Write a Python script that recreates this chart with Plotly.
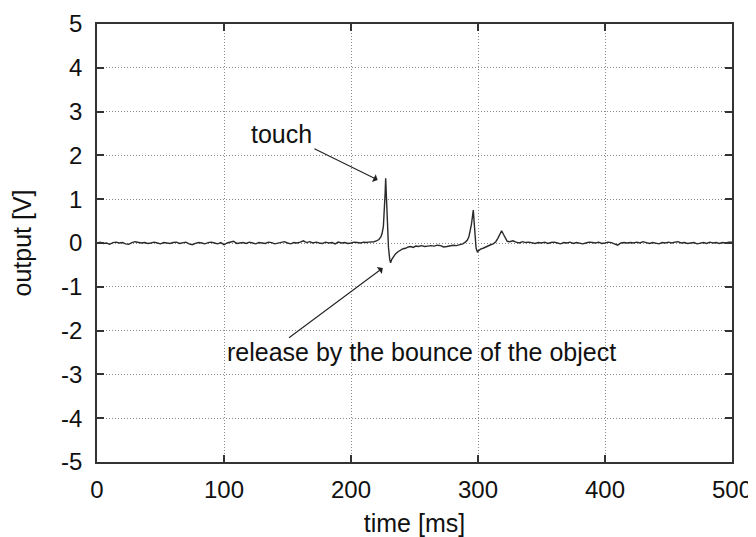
import plotly.graph_objects as go

time_ms = [
    0, 2.5, 5, 7.5, 10, 12.5, 15, 17.5, 20, 22.5, 25, 27.5, 30, 32.5, 35, 37.5, 40, 42.5, 45, 47.5,
    50, 52.5, 55, 57.5, 60, 62.5, 65, 67.5, 70, 72.5, 75, 77.5, 80, 82.5, 85, 87.5, 90, 92.5, 95, 97.5,
    100, 102.5, 105, 107.5, 110, 112.5, 115, 117.5, 120, 122.5, 125, 127.5, 130, 132.5, 135, 137.5,
    140, 142.5, 145, 147.5, 150, 152.5, 155, 157.5, 160, 162.5, 165, 167.5, 170, 172.5, 175, 177.5,
    180, 182.5, 185, 187.5, 190, 192.5, 195, 197.5, 200, 202.5, 205, 207.5, 210,
    212, 214, 216, 218, 220, 222, 223.5, 224.5, 225.5, 226.3, 226.9, 227.3, 227.8, 228.5, 229.5,
    230.5, 231.2, 232, 233.5, 235, 237, 239, 241, 243, 245, 247, 249, 251, 253, 255.5, 258, 260.5,
    263, 265.5, 268, 270.5, 273, 275.5, 278, 280.5, 283, 285.5, 288, 290, 291.5, 292.8, 293.8, 294.8,
    295.6, 296.3, 296.9, 297.6, 298.5, 299.5, 300.5, 302, 304, 306, 308, 310, 312, 314, 315.5, 317,
    318.6, 320, 321.5, 323, 325, 327.5, 330, 332.5, 335, 337.5, 340,
    342.5, 345, 347.5, 350, 352.5, 355, 357.5, 360, 362.5, 365, 367.5, 370, 372.5, 375, 377.5, 380,
    382.5, 385, 387.5, 390, 392.5, 395, 397.5, 400, 402.5, 405, 407.5, 410, 412.5, 415, 417.5, 420,
    422.5, 425, 427.5, 430, 432.5, 435, 437.5, 440, 442.5, 445, 447.5, 450, 452.5, 455, 457.5, 460,
    462.5, 465, 467.5, 470, 472.5, 475, 477.5, 480, 482.5, 485, 487.5, 490, 492.5, 495, 497.5, 500,
]

output_v = [
    0.0, 0.02, -0.01, 0.0, -0.03, 0.01, 0.02, 0.0, 0.01, -0.02, -0.03, 0.01, 0.03, 0.01, 0.0, 0.01, -0.01, 0.0, 0.02, 0.0,
    -0.02, 0.01, 0.0, -0.01, 0.01, 0.02, -0.01, 0.0, 0.02, -0.02, -0.04, -0.01, 0.01, 0.0, -0.02, 0.01, 0.02, 0.0, -0.02, 0.01,
    -0.04, 0.0, 0.02, 0.04, -0.01, 0.0, 0.01, -0.01, 0.02, 0.0, -0.02, 0.01, 0.0, -0.01, 0.02, 0.01,
    -0.02, 0.0, 0.01, 0.03, 0.0, -0.02, 0.01, 0.0, 0.02, 0.05, 0.01, 0.03, 0.0, 0.02, 0.0, -0.01,
    0.02, 0.0, 0.01, -0.02, 0.02, 0.0, 0.01, -0.01, 0.0, 0.02, 0.01, 0.0, 0.02,
    0.01, 0.02, 0.02, 0.03, 0.05, 0.08, 0.14, 0.22, 0.38, 0.7, 1.15, 1.48, 1.1, 0.5, -0.1,
    -0.38, -0.45, -0.38, -0.3, -0.25, -0.2, -0.16, -0.13, -0.12, -0.09, -0.08, -0.1, -0.07, -0.08, -0.06, -0.08, -0.07,
    -0.06, -0.07, -0.05, -0.06, -0.09, -0.08, -0.06, -0.05, -0.06, -0.04, -0.02, 0.02, 0.06, 0.14, 0.26, 0.42,
    0.6, 0.75, 0.5, 0.1, -0.12, -0.2, -0.17, -0.14, -0.12, -0.09, -0.06, -0.04, -0.02, 0.03, 0.1, 0.2,
    0.28, 0.2, 0.1, 0.04, 0.03, 0.05, 0.02, 0.0, 0.03, 0.01, 0.02,
    0.0, -0.01, 0.01, 0.0, 0.02, -0.01, 0.01, 0.02, 0.0, -0.02, 0.01, 0.0, 0.02, -0.01, 0.01, 0.0,
    -0.02, 0.0, 0.02, 0.01, 0.0, 0.02, -0.01, 0.0, 0.02, 0.01, -0.02, -0.05, 0.0, 0.01, 0.0, 0.01,
    0.0, 0.02, 0.0, 0.03, 0.01, -0.01, 0.01, 0.0, -0.02, 0.01, 0.0, 0.02, 0.0, 0.02, 0.03, 0.0,
    0.01, -0.01, 0.0, 0.01, -0.02, 0.0, 0.01, -0.01, 0.02, 0.0, 0.01, -0.01, 0.01, 0.0, 0.02, 0.02,
]

x_ticks = [0, 100, 200, 300, 400, 500]
y_ticks = [5, 4, 3, 2, 1, 0, -1, -2, -3, -4, -5]

FONT = "Liberation Sans, Arial, sans-serif"
TXT = "#111111"

fig = go.Figure()
fig.add_trace(go.Scatter(x=time_ms, y=output_v, mode="lines",
                         line=dict(color="#2a2a2a", width=1.4), showlegend=False))

axis_common = dict(
    showline=True, linecolor="#333333", linewidth=1.5, mirror="ticks",
    ticks="inside", ticklen=7, tickcolor="#333333", tickwidth=1.5,
    showgrid=True, gridcolor="#8a8a8a", griddash="1px,2px", gridwidth=1,
    zeroline=False, tickfont=dict(family=FONT, size=24, color=TXT),
    automargin=False,
)

fig.update_xaxes(range=[0, 500], tickvals=x_ticks, ticktext=[str(v) for v in x_ticks],
                 ticklabelstandoff=5,
                 title=dict(text="time [ms]", font=dict(family=FONT, size=25, color=TXT), standoff=21),
                 **axis_common)
fig.update_yaxes(range=[-5, 5], tickvals=y_ticks, ticktext=[str(v) for v in y_ticks],
                 ticklabelstandoff=8,
                 title=dict(text="output [V]", font=dict(family=FONT, size=25, color=TXT), standoff=24),
                 **axis_common)

fig.add_annotation(x=221, y=1.44, ax=170, ay=2.17, xref="x", yref="y", axref="x", ayref="y",
                   text="", showarrow=True, arrowhead=1, arrowsize=1.3, arrowwidth=1.1, arrowcolor="#222222")
fig.add_annotation(x=225, y=-0.57, ax=150, ay=-2.19, xref="x", yref="y", axref="x", ayref="y",
                   text="", showarrow=True, arrowhead=1, arrowsize=1.3, arrowwidth=1.1, arrowcolor="#222222")
fig.add_annotation(x=145, y=2.5, xref="x", yref="y", text="touch", showarrow=False,
                   font=dict(family=FONT, size=25, color=TXT))
fig.add_annotation(x=100.5, y=-2.49, xref="x", yref="y", text="release by the bounce of the object",
                   showarrow=False, xanchor="left", font=dict(family=FONT, size=25, color=TXT))

# the page body has an 8px margin, so the figure is made 8px smaller and left/top margins shifted
fig.update_layout(
    width=748, height=529,
    margin=dict(l=89, r=24, t=16, b=75),
    plot_bgcolor="white", paper_bgcolor="white",
)

fig.write_html("out.html")
